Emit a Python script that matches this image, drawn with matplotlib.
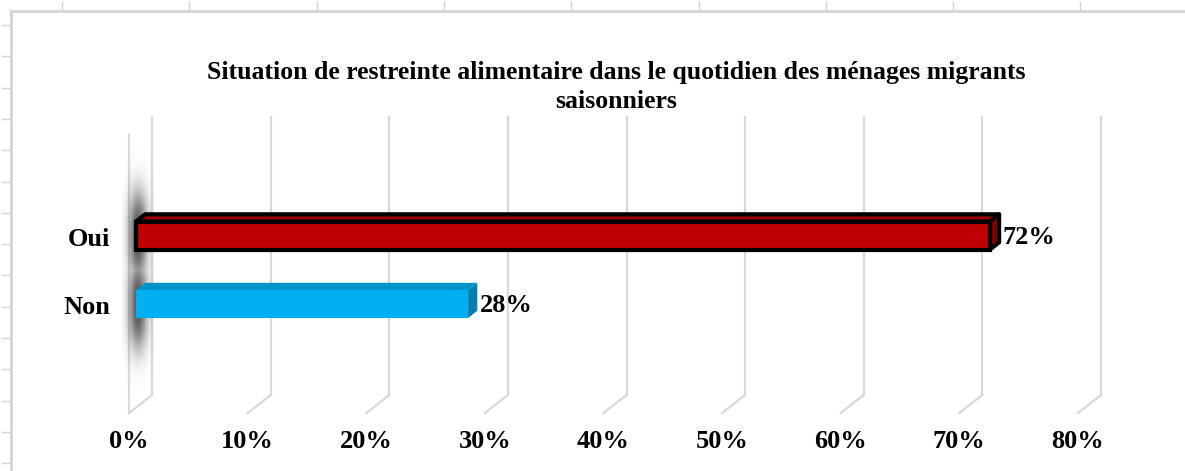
import numpy as np
import matplotlib
matplotlib.use("Agg")
import matplotlib.pyplot as plt
from matplotlib.patches import Polygon
from matplotlib.lines import Line2D

# ---- data ----
CATEGORIES = ["Non", "Oui"]
VALUES = [28, 72]
FACE = ["#00B0F0", "#C00000"]
TOP = ["#0093C8", "#9A0000"]
SIDE = ["#007FAE", "#800000"]
EDGE = ["none", "black"]
TICKS = [0, 10, 20, 30, 40, 50, 60, 70, 80]
TITLE = ("Situation de restreinte alimentaire dans le quotidien des ménages migrants\n"
         "saisonniers")

W, H = 1185, 471
plt.rcParams["font.family"] = ["Liberation Serif", "DejaVu Serif"]
GRID = "#d9d9d9"
FS = 19

fig = plt.figure(figsize=(W / 100, H / 100), dpi=100)
ax = fig.add_axes([0, 0, 1, 1])
ax.axis("off")

# pixel scale of the bar plane: 0% at px 136, 11.86 px per percent;
# category 0 (Non) centred at py 304, 68.5 px per category
PX_X, X0 = 11.86, 136
PX_Y, Y0 = 68.5, 304
ax.set_xlim(-X0 / PX_X, (W - X0) / PX_X)
ax.set_ylim((Y0 - H) / PX_Y, Y0 / PX_Y)
dx, dy = 1 / PX_X, 1 / PX_Y          # one pixel in data units

# depth: front->back vector of the 3D box
DEPTH = np.array([23 * dx, 18 * dy])
F0 = 0.3                              # bar plane position inside the depth
Y_FLOOR = (Y0 - 407.6) / PX_Y
Y_TOP = (Y0 - 117) / PX_Y
front = -F0 * DEPTH
back = (1 - F0) * DEPTH

# ---- walls / gridlines ----
for t in TICKS:
    bx, by = t + back[0], Y_FLOOR + back[1]
    fx, fy = t + front[0], Y_FLOOR + front[1]
    ax.plot([bx, bx], [by, Y_TOP], color=GRID, lw=1.6, zorder=1)
    ax.plot([bx, fx], [by, fy], color=GRID, lw=1.6, zorder=1)
# left wall front edge
ax.plot([front[0], front[0]], [Y_FLOOR + front[1], Y_TOP - DEPTH[1]],
        color=GRID, lw=1.6, zorder=1)

# shadow cast on the left wall by the bars
ny, nx = 200, 40
ys = np.linspace(Y_FLOOR, Y_TOP - DEPTH[1], ny)
xs = np.linspace(0, 1, nx)
alpha = np.zeros((ny, nx))
for i, v in enumerate(VALUES):
    prof = np.exp(-(np.abs(ys - i) / 0.65) ** 2.5)
    alpha = np.maximum(alpha, prof[:, None] * np.ones(nx)[None, :])
alpha *= 0.9 * np.exp(-((xs - 0.5) / 0.3) ** 2)[None, :]
img = np.zeros((ny, nx, 4))
img[..., :3] = 0.25
img[..., 3] = alpha
ax.imshow(img, extent=[front[0] - 0.6, back[0] + 0.1, ys[0], ys[-1]],
          origin="lower", aspect="auto", zorder=2, interpolation="bilinear")

# ---- bars ----
BH = 28 * dy
BD = 0.4 * DEPTH
for i, (cat, v) in enumerate(zip(CATEGORIES, VALUES)):
    y0, y1 = i - BH / 2, i + BH / 2
    lw = 3 if EDGE[i] != "none" else 0
    top = Polygon([(0, y1), (v, y1), (v + BD[0], y1 + BD[1]), (BD[0], y1 + BD[1])],
                  closed=True, fc=TOP[i], ec=EDGE[i], lw=lw, zorder=4,
                  joinstyle="round")
    side = Polygon([(v, y0), (v + BD[0], y0 + BD[1]), (v + BD[0], y1 + BD[1]), (v, y1)],
                   closed=True, fc=SIDE[i], ec=EDGE[i], lw=lw, zorder=4,
                   joinstyle="round")
    ax.add_patch(top)
    ax.add_patch(side)
    ax.barh(i, v, height=BH, left=0, color=FACE[i], edgecolor=EDGE[i],
            linewidth=lw, zorder=5)
    ax.text(v + BD[0] + 3 * dx, i - 2 * dy, f"{v}%", ha="left", va="center",
            fontsize=FS, fontweight="bold", zorder=6)
    ax.text(-26 * dx, i - 4 * dy, cat, ha="right", va="center",
            fontsize=FS, fontweight="bold")

# ---- x tick labels (front floor edge) ----
for t in TICKS:
    ax.text(t + front[0], Y_FLOOR + front[1] - 28 * dy, f"{t}%",
            ha="center", va="center", fontsize=FS, fontweight="bold")

fig.text(616 / W, 1 - 87 / H, TITLE, ha="center", va="center",
         fontsize=18.5, fontweight="bold", linespacing=1.35)

# ---- spreadsheet frame around the chart object ----
def px_line(x0, y0, x1, y1, lw=1.5, c="#d4d4d4"):
    fig.add_artist(Line2D([x0 / W, x1 / W], [1 - y0 / H, 1 - y1 / H],
                          transform=fig.transFigure, color=c, lw=lw))

px_line(11, 10.5, W, 10.5, lw=2)
px_line(11, 10.5, 11, H, lw=2)
for k in range(9):
    x = 62 + 127.3 * k
    px_line(x, 2, x, 9, lw=1)
for k in range(15):
    y = 25 + 31.3 * k
    px_line(2, y, 9, y, lw=1)

fig.savefig("out.png", dpi=100)
